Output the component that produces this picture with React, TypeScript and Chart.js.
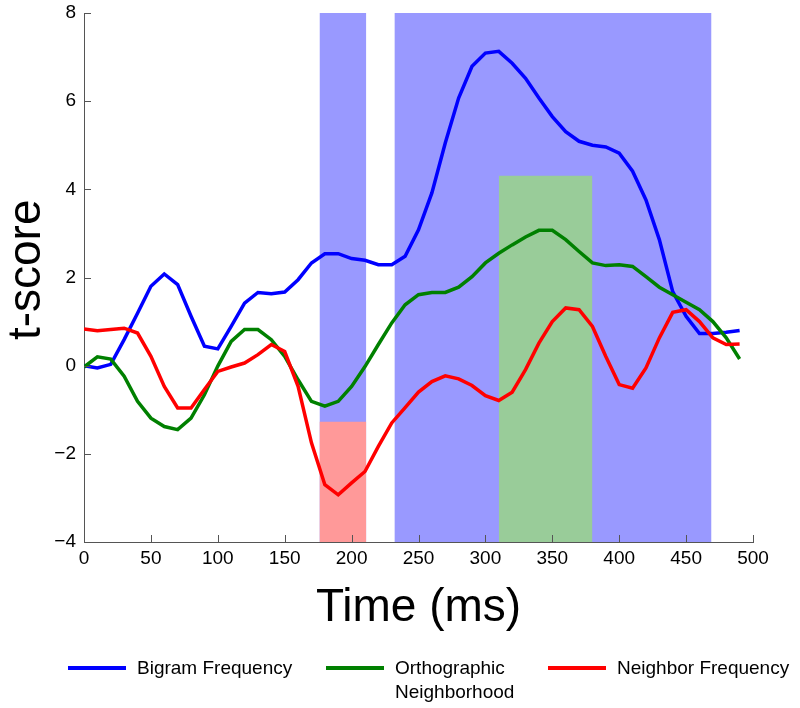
import React, { useEffect, useRef } from "react";
import { Chart, registerables } from "chart.js";

Chart.register(...registerables);

const times = [
  0, 10, 20, 30, 40, 50, 60, 70, 80, 90,
  100, 110, 120, 130, 140, 150, 160, 170, 180, 190,
  200, 210, 220, 230, 240, 250, 260, 270, 280, 290,
  300, 310, 320, 330, 340, 350, 360, 370, 380, 390,
  400, 410, 420, 430, 440, 450, 460, 470, 480, 490,
];

const bigramFrequency = [
  0.0, -0.05, 0.03, 0.59, 1.19, 1.8, 2.08, 1.84, 1.12, 0.44,
  0.38, 0.89, 1.42, 1.66, 1.63, 1.67, 1.95, 2.33, 2.54, 2.54,
  2.43, 2.39, 2.29, 2.29, 2.48, 3.08, 3.92, 5.05, 6.07, 6.79,
  7.09, 7.13, 6.86, 6.52, 6.07, 5.65, 5.31, 5.09, 5.0, 4.96,
  4.82, 4.41, 3.76, 2.86, 1.68, 1.12, 0.73, 0.73, 0.76, 0.8,
];

const orthographicNeighborhood = [
  -0.03, 0.2, 0.15, -0.24, -0.81, -1.19, -1.38, -1.45, -1.19, -0.66,
  -0.01, 0.55, 0.82, 0.82, 0.59, 0.21, -0.32, -0.81, -0.92, -0.81,
  -0.47, -0.02, 0.48, 0.97, 1.38, 1.61, 1.66, 1.66, 1.78, 2.02,
  2.33, 2.55, 2.74, 2.92, 3.07, 3.07, 2.86, 2.59, 2.33, 2.27,
  2.29, 2.25, 2.02, 1.78, 1.61, 1.44, 1.27, 1.0, 0.63, 0.15,
];

const neighborFrequency = [
  0.83, 0.79, 0.82, 0.85, 0.74, 0.21, -0.47, -0.96, -0.96, -0.54,
  -0.13, -0.03, 0.06, 0.25, 0.48, 0.32, -0.47, -1.75, -2.7, -2.93,
  -2.66, -2.4, -1.83, -1.3, -0.95, -0.6, -0.36, -0.23, -0.3, -0.45,
  -0.68, -0.79, -0.6, -0.09, 0.51, 1.0, 1.31, 1.27, 0.89, 0.21,
  -0.43, -0.51, -0.05, 0.63, 1.21, 1.27, 1.0, 0.63, 0.48, 0.49,
];

// significance windows [start ms, end ms]
const bigramWindows = [
  [176, 211],
  [232, 469],
];
const bigramWindowTop = 8;
const neighborWindow = [176, 211];
const neighborWindowTop = -1.27;
const orthoWindow = [310, 380];
const orthoWindowTop = 4.31;

const yMin = -4;
const yMax = 8;
const xMin = 0;
const xMax = 500;

const seriesNames = ["Bigram Frequency", "Orthographic Neighborhood", "Neighbor Frequency"];
const legendLines = [["Bigram Frequency"], ["Orthographic", "Neighborhood"], ["Neighbor Frequency"]];

const BLUE = "#0000ff";
const GREEN = "#008000";
const RED = "#ff0000";
const BLUE_FILL = "rgb(153,153,255)";
const GREEN_FILL = "rgb(153,204,153)";
const RED_FILL = "rgb(255,153,153)";
const FONT = "'Liberation Sans', Arial, Helvetica, sans-serif";
const seriesColors = [BLUE, GREEN, RED];
const legendLefts = [68, 326, 548];

export default function App() {
  const canvasRef = useRef<HTMLCanvasElement>(null);

  useEffect(() => {
    if (!canvasRef.current) return;
    const pts = (ys: number[]) => times.map((t, i) => ({ x: t, y: ys[i] }));
    const rect = (x0: number, x1: number, top: number, color: string, order: number) => ({
      type: "line" as const,
      label: "",
      data: [
        { x: x0, y: top },
        { x: x1, y: top },
      ],
      borderWidth: 0,
      borderColor: "rgba(0,0,0,0)",
      pointRadius: 0,
      fill: { value: yMin },
      backgroundColor: color,
      order,
    });
    const line = (label: string, ys: number[], color: string, order: number) => ({
      type: "line" as const,
      label,
      data: pts(ys),
      borderColor: color,
      backgroundColor: color,
      borderWidth: 3.5,
      pointRadius: 0,
      tension: 0,
      fill: false,
      order,
    });

    const innerTicks = {
      id: "innerTicks",
      afterDraw(chart: any) {
        const ctx = chart.ctx;
        const xs = chart.scales.x;
        const ys = chart.scales.y;
        const a = chart.chartArea;
        ctx.save();
        ctx.strokeStyle = "#555555";
        ctx.lineWidth = 1;
        ctx.beginPath();
        xs.ticks.forEach((t: any) => {
          const px = Math.round(xs.getPixelForValue(t.value)) + 0.5;
          ctx.moveTo(px, a.bottom);
          ctx.lineTo(px, a.bottom - 7);
        });
        ys.ticks.forEach((t: any) => {
          const py = Math.round(ys.getPixelForValue(t.value)) + 0.5;
          ctx.moveTo(a.left, py);
          ctx.lineTo(a.left + 7, py);
        });
        ctx.stroke();
        ctx.restore();
      },
    };

    const chart = new Chart(canvasRef.current, {
      type: "line",
      data: {
        datasets: [
          line(seriesNames[0], bigramFrequency, BLUE, 3),
          line(seriesNames[1], orthographicNeighborhood, GREEN, 2),
          line(seriesNames[2], neighborFrequency, RED, 1),
          rect(bigramWindows[0][0], bigramWindows[0][1], bigramWindowTop, BLUE_FILL, 6),
          rect(bigramWindows[1][0], bigramWindows[1][1], bigramWindowTop, BLUE_FILL, 6),
          rect(neighborWindow[0], neighborWindow[1], neighborWindowTop, RED_FILL, 5),
          rect(orthoWindow[0], orthoWindow[1], orthoWindowTop, GREEN_FILL, 5),
        ] as any,
      },
      options: {
        animation: false,
        responsive: false,
        events: [],
        layout: { padding: { left: 0, right: 47, top: 13, bottom: 74.5 } },
        scales: {
          x: {
            type: "linear",
            min: xMin,
            max: xMax,
            afterFit: (s: any) => {
              s.height = 91.5;
            },
            grid: { display: false, drawTicks: false },
            border: { display: true, color: "#555555", width: 1 },
            ticks: {
              stepSize: 50,
              padding: 5,
              color: "#000",
              font: { size: 19, family: FONT },
              maxRotation: 0,
            },
            title: {
              display: true,
              text: "Time (ms)",
              color: "#000",
              padding: 0,
              font: { size: 46, family: FONT, lineHeight: 1.109 },
            },
          },
          y: {
            type: "linear",
            min: yMin,
            max: yMax,
            afterFit: (s: any) => {
              s.width = 84;
            },
            grid: { display: false, drawTicks: false },
            border: { display: true, color: "#555555", width: 1 },
            ticks: {
              stepSize: 2,
              padding: 8,
              color: "#000",
              font: { size: 19, family: FONT, lineHeight: 0.5 },
              callback: (v: any) => String(v).replace("-", "\u2212"),
            },
            title: {
              display: true,
              text: "\u2004t-score",
              color: "#000",
              padding: 0,
              font: { size: 46, family: FONT, lineHeight: 1.2 },
            },
          },
        },
        plugins: {
          tooltip: { enabled: false },
          legend: { display: false },
        },
      },
      plugins: [innerTicks],
    });
    return () => chart.destroy();
  }, []);

  return (
    <div style={{ position: "absolute", left: 0, top: 0, width: 800, height: 708, background: "#fff" }}>
      <canvas ref={canvasRef} width={800} height={708} style={{ display: "block" }} />
      {legendLines.map((lines, i) => (
        <div
          key={i}
          style={{
            position: "absolute",
            left: legendLefts[i],
            top: 656,
            display: "flex",
            alignItems: "flex-start",
            fontFamily: FONT,
            fontSize: 19,
            lineHeight: "24px",
            color: "#000",
            whiteSpace: "nowrap",
          }}
        >
          <div style={{ width: 58, height: 4, marginTop: 10, marginRight: 11, background: seriesColors[i] }} />
          <div>
            {lines.map((t, j) => (
              <div key={j}>{t}</div>
            ))}
          </div>
        </div>
      ))}
    </div>
  );
}
